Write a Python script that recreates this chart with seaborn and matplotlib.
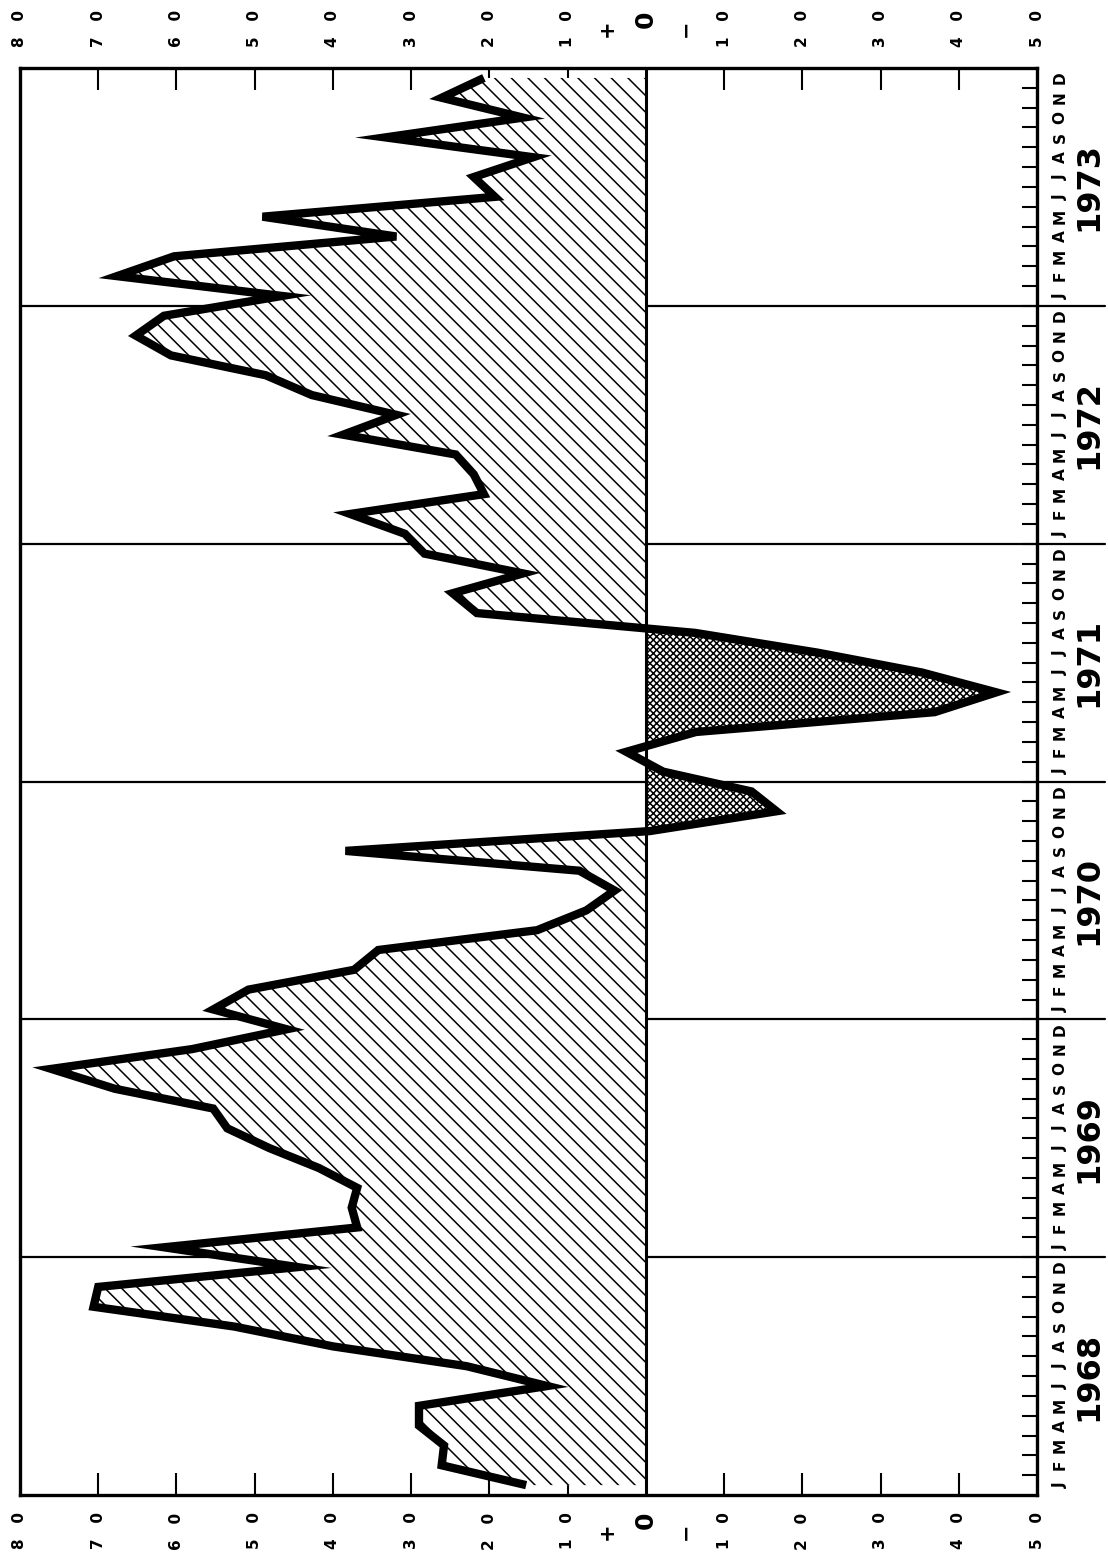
import matplotlib
matplotlib.use('Agg')
import matplotlib.pyplot as plt
import matplotlib.transforms as mtransforms
import numpy as np
import pandas as pd
import seaborn as sns

# Monthly values (positive = left of zero line)
YEARS = [1968, 1969, 1970, 1971, 1972, 1973]
MONTH_LETTERS = ['J', 'F', 'M', 'A', 'M', 'J', 'J', 'A', 'S', 'O', 'N', 'D']

v1968 = [15.3, 26.1, 25.8, 29.0, 29.0, 12.6, 22.9, 40.0, 52.6, 70.6, 70.0, 44.5]
v1969 = [61.6, 36.9, 37.6, 36.9, 41.8, 48.1, 53.5, 55.3, 67.9, 76.0, 58.0, 45.9]
v1970 = [55.3, 50.8, 37.3, 34.2, 13.9, 7.6, 4.0, 8.5, 38.4, -0.5, -16.7, -13.5]
v1971 = [-2.2, 2.5, -6.4, -36.9, -44.8, -35.3, -22.0, -6.3, 21.6, 24.7, 15.7, 28.3]
v1972 = [30.8, 37.8, 20.7, 22.0, 24.3, 38.7, 31.9, 42.7, 48.6, 60.7, 65.2, 61.6]
v1973 = [46.5, 67.6, 60.3, 31.9, 49.0, 19.3, 22.0, 14.4, 33.3, 15.7, 26.1, 20.7]

VALUE_TICKS = [70, 60, 50, 40, 30, 20, 10, -10, -20, -30, -40]
VALUE_LABELS = [80, 70, 60, 50, 40, 30, 20, 10, -10, -20, -30, -40, -50]

values = np.array(v1968 + v1969 + v1970 + v1971 + v1972 + v1973)
t = np.arange(len(values)) + 0.5
df = pd.DataFrame({'t': t, 'value': values})

sns.set_style('white')
plt.rcParams['font.family'] = ['DejaVu Sans']
plt.rcParams['text.color'] = 'black'
plt.rcParams['hatch.linewidth'] = 1.1

fig = plt.figure(figsize=(11.08, 15.64), dpi=100)
ax = fig.add_axes([0.01805, 0.0441, 0.9179, 0.9124])

# year separators, running out through the month labels
trans_y = mtransforms.blended_transform_factory(ax.transAxes, ax.transData)
for k in range(1, len(YEARS)):
    ax.plot([0, 1.067], [12 * k, 12 * k], transform=trans_y, color='black',
            lw=1.6, clip_on=False, zorder=1)

# hatched areas: single hatch above zero, cross hatch below
ax.fill_betweenx(t, values, 0, where=values >= 0, interpolate=True,
                 facecolor='white', edgecolor='black', hatch='\\\\', linewidth=0, zorder=2)
ax.fill_betweenx(t, values, 0, where=values <= 0, interpolate=True,
                 facecolor='white', edgecolor='black', hatch='xxxxx', linewidth=0, zorder=2)

ax.axvline(0, color='black', lw=2.2, zorder=3)

sns.lineplot(data=df, x='value', y='t', orient='y', sort=False, estimator=None,
             color='black', linewidth=6, ax=ax, zorder=4,
             solid_joinstyle='miter', solid_capstyle='butt')

ax.set_xlim(80, -50)
ax.set_ylim(0, 12 * len(YEARS))
ax.set_xlabel('')
ax.set_ylabel('')

for s in ax.spines.values():
    s.set_linewidth(2.4)
    s.set_color('black')

ax.set_xticks(VALUE_TICKS)
ax.tick_params(axis='x', direction='in', length=16, width=1.5, top=True, bottom=True,
               labelbottom=False, labeltop=False, color='black')
ax.set_yticks(range(1, 12 * len(YEARS)))
ax.tick_params(axis='y', direction='in', length=11, width=1.5, left=False, right=True,
               labelleft=False, labelright=False, color='black')

# value labels above and below, rotated like the rest of the sheet
trans_x = ax.get_xaxis_transform()
for v in VALUE_LABELS:
    lab = f"{abs(v) // 10}   0"
    for yy in (1.028, -0.0252):
        ax.text(v, yy, lab, transform=trans_x, rotation=90, ha='center', va='center',
                fontsize=11, fontweight='bold', clip_on=False)
for yy, yz in ((1.028, 1.0343), (-0.0252, -0.0175)):
    ax.text(0, yz, '0', transform=trans_x, rotation=90, ha='center', va='center',
            fontsize=18, fontweight='bold', clip_on=False)
    ax.text(5, yy, '+', transform=trans_x, rotation=90, ha='center', va='center',
            fontsize=15, fontweight='bold', clip_on=False)
    ax.text(-5, yy, '\u2212', transform=trans_x, rotation=90, ha='center', va='center',
            fontsize=15, fontweight='bold', clip_on=False)

# month letters and years on the right
for k, year in enumerate(YEARS):
    for m, letter in enumerate(MONTH_LETTERS):
        ax.text(1.0226, 12 * k + m + 0.5, letter, transform=trans_y, rotation=90,
                ha='center', va='center', fontsize=11, fontweight='bold', clip_on=False)
    ax.text(1.051, 12 * k + 6, str(year), transform=trans_y, rotation=90,
            ha='center', va='center', fontsize=23, fontweight='bold', clip_on=False,
            family=['Liberation Sans Narrow', 'DejaVu Sans'])

fig.savefig('out.png', dpi=100, facecolor='white')
plt.close(fig)
